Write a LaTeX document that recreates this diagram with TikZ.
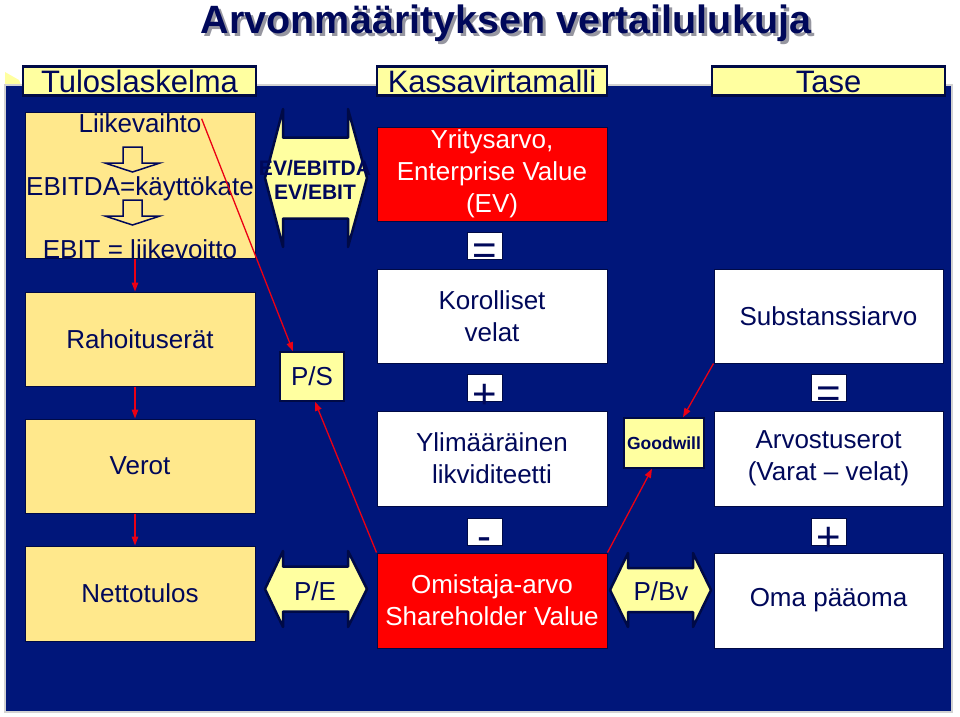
\documentclass[tikz,border=0pt]{standalone}
\usepackage{fontspec}
\setmainfont{Liberation Sans}
\usepackage{tikz}
\usetikzlibrary{arrows,arrows.meta,positioning,calc}

\definecolor{panelblue}{RGB}{0,22,122}
\definecolor{inkblue}{RGB}{0,8,90}
\definecolor{lineblue}{RGB}{0,10,70}
\definecolor{boxyellow}{RGB}{255,232,140}
\definecolor{paleyellow}{RGB}{255,255,160}
\definecolor{boxred}{RGB}{255,0,0}
\definecolor{linered}{RGB}{235,0,20}
\definecolor{shadowgray}{RGB}{150,150,160}
\newcommand{\sz}[2]{\fontsize{#1}{#2}\selectfont}

\begin{document}
\begin{tikzpicture}[x=1pt,y=-1pt,
	box/.style={draw=lineblue,line width=1pt,minimum width=230pt,minimum height=94pt,inner sep=0pt,align=center,font=\sz{26}{32},text=inkblue},
	ybox/.style={box,fill=boxyellow},
	wbox/.style={box,fill=white},
	rbox/.style={box,fill=boxred,text=white},
	txt/.style={inner sep=0pt,font=\sz{26}{32},text=inkblue,anchor=base},
	tab/.style={draw=lineblue,line width=2.5pt,fill=paleyellow,minimum width=233pt,inner sep=0pt,text height=26.5pt,text depth=2.5pt,font=\sz{31}{36},text=inkblue,anchor=north},
	sign/.style={fill=white,draw=lineblue,line width=1pt,minimum width=35pt,inner sep=0pt,text height=13.5pt,text depth=13.5pt,font=\sz{42}{48},text=inkblue},
	ratio/.style={fill=paleyellow,draw=lineblue,line width=1.5pt,inner sep=0pt,text=inkblue},
	redarr/.style={-{Triangle[length=9pt,width=6.5pt]},linered,line width=1.3pt},
	hollow/.style={fill=boxyellow,draw=inkblue,line width=1.5pt,line join=miter},
	dblarr/.style={fill=paleyellow,draw=lineblue,line width=2.5pt,line join=round}]
		\useasboundingbox (0,0) rectangle (960,716);
		% title
		\node[anchor=base,font=\sz{39.5}{45}\bfseries,text=shadowgray] (ttlshadow) at (509,36) {Arvonmäärityksen vertailulukuja};
		\node[anchor=base,font=\sz{39.5}{45}\bfseries,text=inkblue] (ttl) at (506,33) {Arvonmäärityksen vertailulukuja};
		% panel
		\fill[paleyellow] (5,72) -- (19,80) -- (22,87) -- (5,87) -- cycle;
		\filldraw[fill=panelblue,draw=gray!35,line width=1.5pt] (5,85) rectangle (952,712);
		\node[tab] (tulos) at (139.5,65) {Tuloslaskelma};
		\node[tab,minimum width=230pt] (kassa) at (492,65) {Kassavirtamalli};
		\node[tab] (tase) at (828.5,65) {Tase};
		% tuloslaskelma
		\node[ybox,minimum height=146pt] (ebox) at (140,185) {};
		\node[txt] (liike) at (140,132) {Liikevaihto};
		\node[txt] (ebitda) at (140,195) {EBITDA=käyttökate};
		\node[txt] (ebit) at (140,258) {EBIT = liikevoitto};
		\foreach \y in {147,200}
			\filldraw[hollow] (123,\y) -- (142,\y) -- (142,{\y+16}) -- (160,{\y+16}) -- (132.5,{\y+25}) -- (105,{\y+16}) -- (123,{\y+16}) -- cycle;
		\node[ybox] (rah) at (140,339) {Rahoituserät};
		\node[ybox] (verot) at (140,466) {Verot};
		\node[ybox,minimum height=95pt] (netto) at (140,593.5) {Nettotulos};
		% kassavirtamalli
		\node[rbox] (ev) at (492,174) {Yritysarvo,\\Enterprise Value\\(EV)};
		\node[wbox] (kor) at (492,316) {Korolliset\\velat};
		\node[wbox,minimum height=95pt] (ylim) at (492,458.5) {Ylimääräinen\\likviditeetti};
		\node[rbox,minimum height=95pt] (omis) at (492,600.5) {Omistaja-arvo\\Shareholder Value};
		\node[sign] (eq1) at (484.5,245.5) {\raisebox{-19pt}{=}};
		\node[sign] (plus1) at (484.5,388) {\raisebox{-20pt}{+}};
		\node[sign] (minus1) at (484.5,531.5) {\raisebox{-19pt}{-}};
		% tase
		\node[wbox,minimum width=229pt] (subs) at (828.5,316) {Substanssiarvo};
		\node[wbox,minimum width=229pt,minimum height=95pt] (arvo) at (828.5,458.5) {Arvostuserot\\(Varat -- velat)};
		\node[wbox,minimum width=229pt,minimum height=95pt] (oma) at (828.5,600.5) {Oma pääoma};
		\node[sign] (eq2) at (829,388) {\raisebox{-19pt}{=}};
		\node[sign] (plus2) at (829,531.5) {\raisebox{-20pt}{+}};
		% kertoimet
		\foreach \a/\b/\c/\d/\m/\h/\s in {265/283/348/367/178/69/40.5,265/283/348/367/589/38/22.5,610/628/693/711/590/37/22}
			\filldraw[dblarr] (\a,\m) -- (\b,{\m-\h}) -- (\b,{\m-\s}) -- (\c,{\m-\s}) -- (\c,{\m-\h}) -- (\d,\m) -- (\c,{\m+\h}) -- (\c,{\m+\s}) -- (\b,{\m+\s}) -- (\b,{\m+\h}) -- cycle;
		\node[inner sep=0pt,align=center,font=\sz{21}{24}\bfseries,text=inkblue] (evtxt) at (315,180) {EV/EBITDA\\EV/EBIT};
		\node[inner sep=0pt,font=\sz{26}{32},text=inkblue] (petxt) at (315,591) {P/E};
		\node[inner sep=0pt,font=\sz{26}{32},text=inkblue] (pbtxt) at (661,591) {P/Bv};
		\node[ratio,minimum width=64pt,minimum height=49pt,font=\sz{26}{32}] (ps) at (312,376.5) {P/S};
		\node[ratio,minimum width=80pt,minimum height=50pt,font=\sz{17.5}{20}\bfseries] (gw) at (664,443) {Goodwill};
		% yhteydet
		\foreach \a/\b in {ebox/rah,rah/verot,verot/netto}
			\draw[redarr] ([xshift=-5pt]\a.south) -- ([xshift=-5pt]\b.north);
		\draw[redarr] ([yshift=4pt]liike.east) -- ([xshift=-19pt]ps.north);
		\draw[redarr] (omis.north west) -- ([xshift=3pt]ps.south);
		\draw[redarr] (omis.north east) -- ([xshift=-12pt]gw.south);
		\draw[redarr] (subs.south west) -- ([xshift=19pt]gw.north);
\end{tikzpicture}
\end{document}
